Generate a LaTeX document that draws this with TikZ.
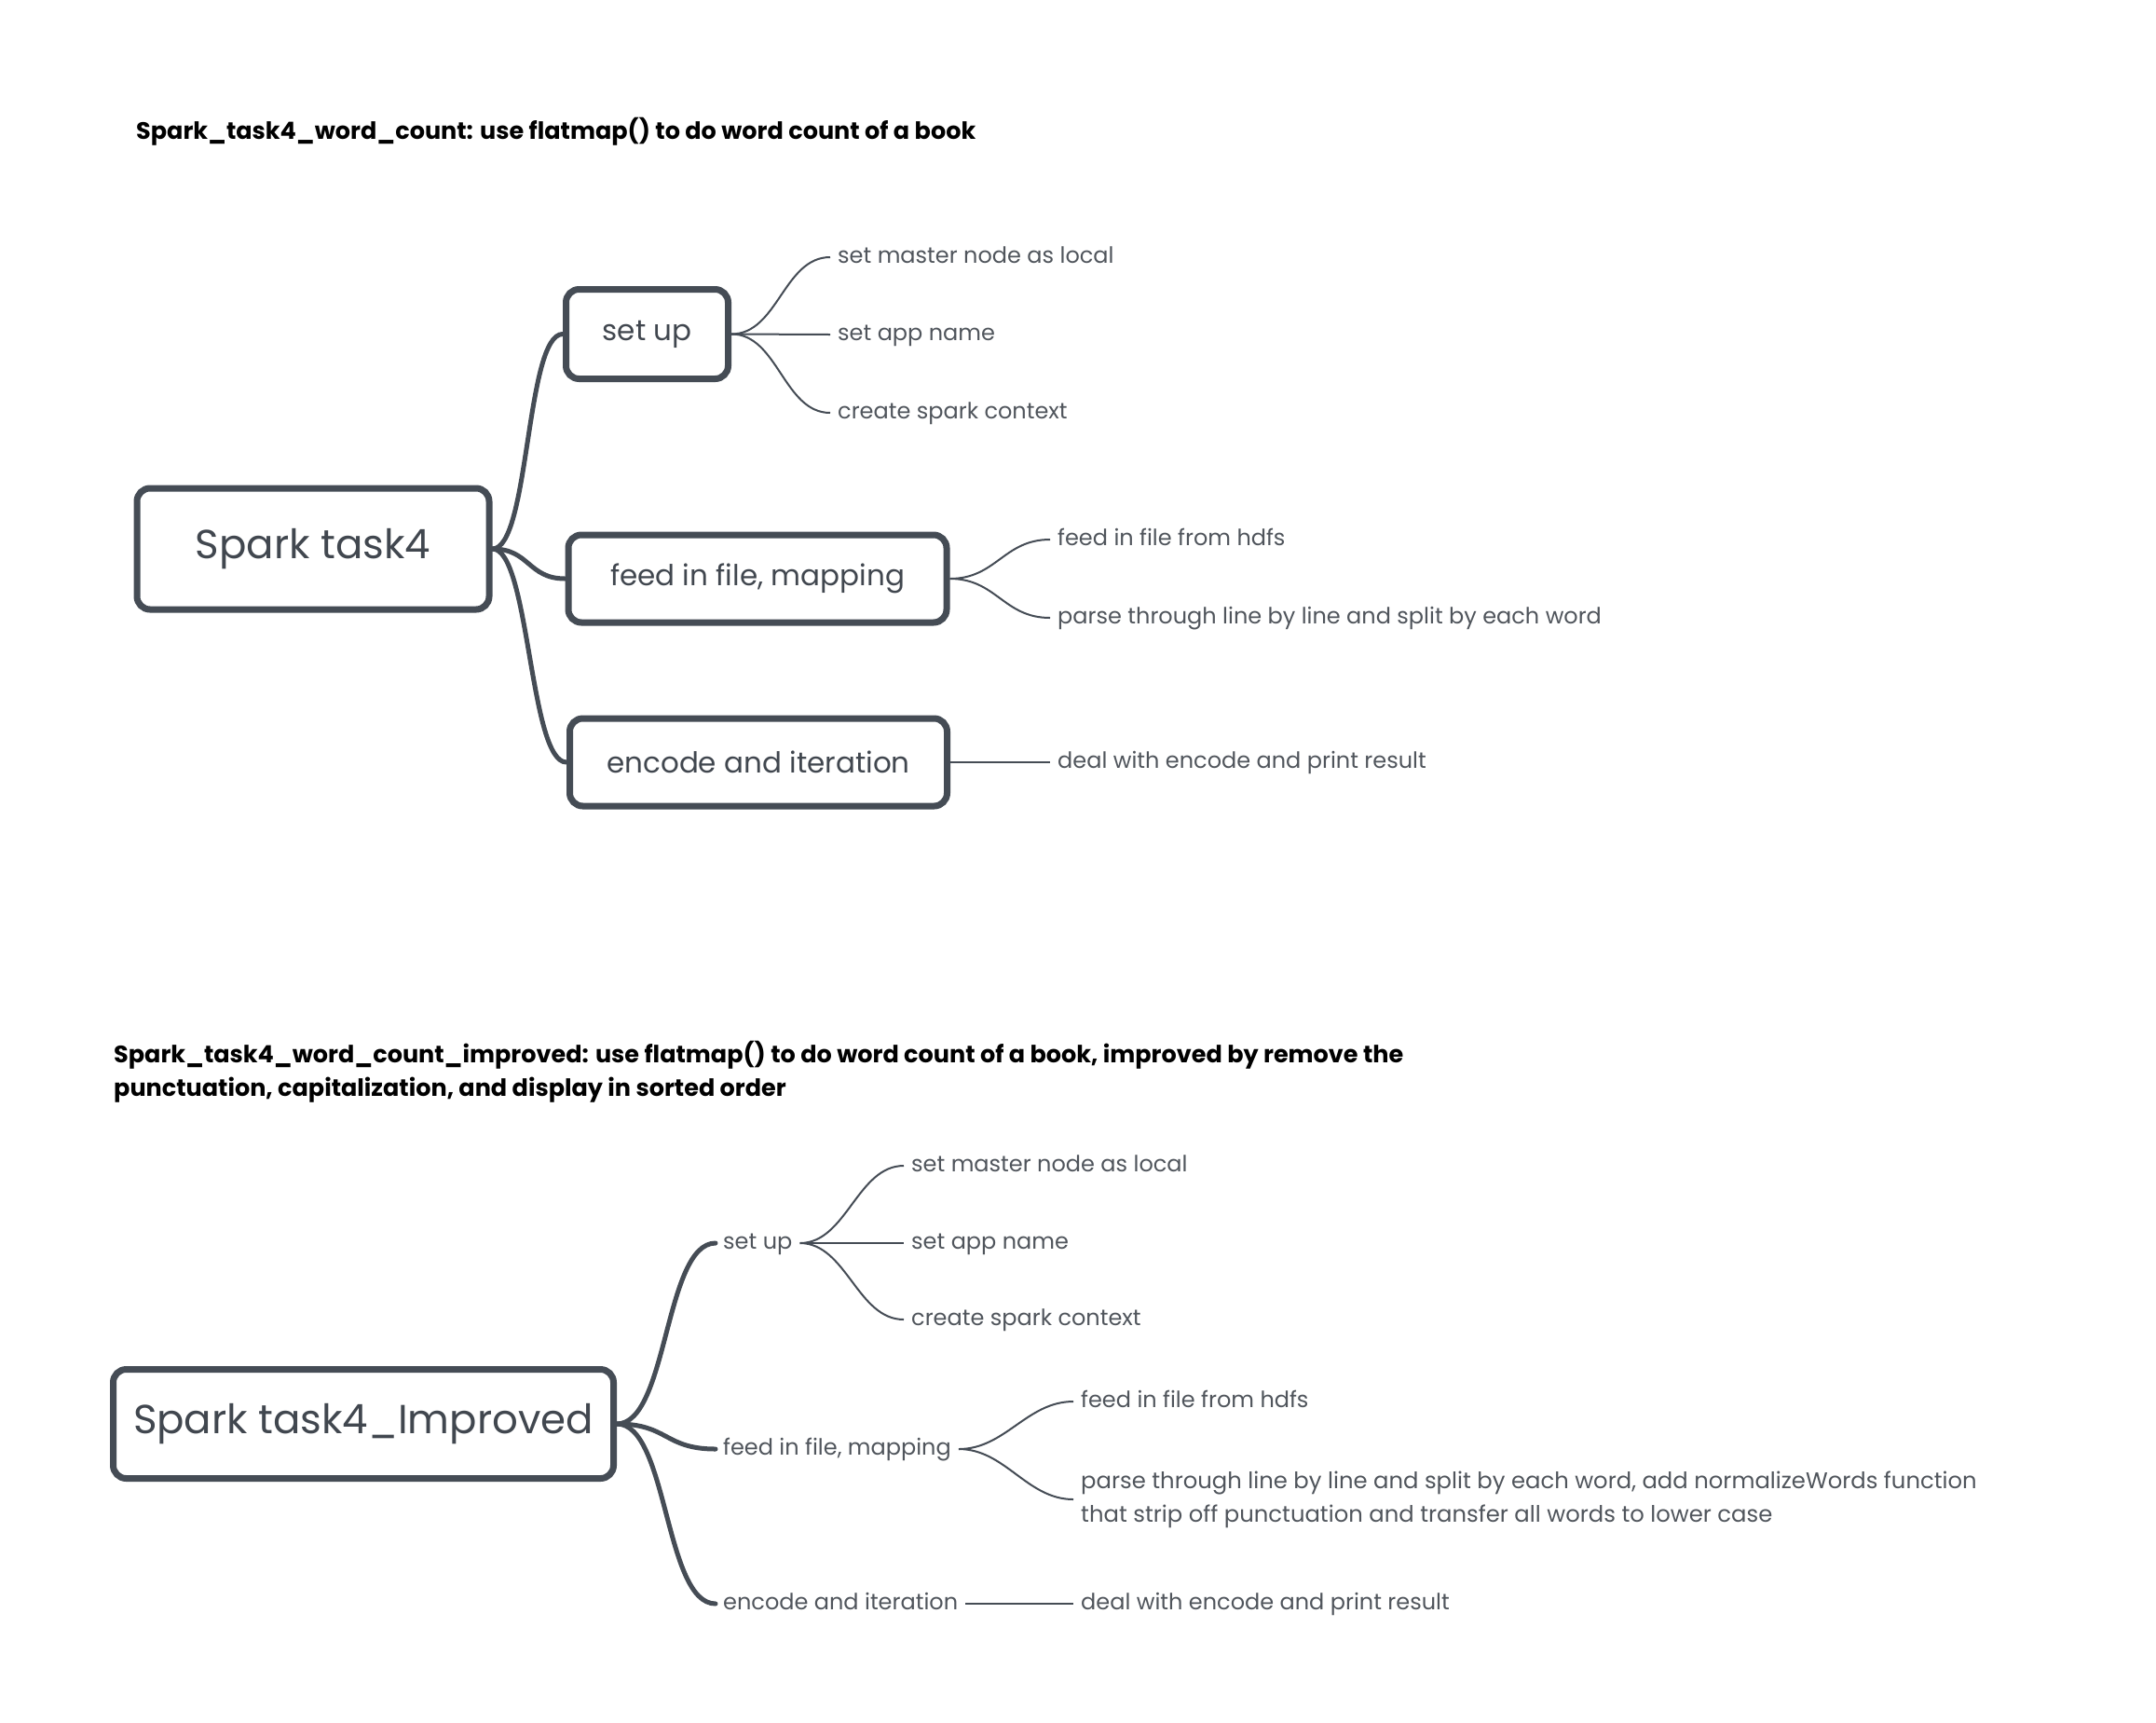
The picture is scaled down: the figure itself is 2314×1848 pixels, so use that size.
\documentclass[tikz,border=0pt]{standalone}
\usepackage{fontspec}
\setmainfont{Poppins}
\definecolor{boxc}{HTML}{454C55}
\definecolor{txtc}{HTML}{41474F}
\definecolor{leafc}{HTML}{50555C}
\definecolor{linec}{HTML}{454C55}
\begin{document}
\begin{tikzpicture}[x=1pt,y=-1pt,
  box/.style={draw=boxc, line width=7pt, rounded corners=14pt, fill=white, text=txtc, inner sep=0pt, font=\fontsize{31}{38}\selectfont},
  rootbox/.style={box, font=\fontsize{43.5}{52}\selectfont},
  leaf/.style={text=leafc, inner xsep=8pt, inner ysep=0pt, anchor=west, text height=17pt, text depth=5pt, font=\fontsize{24}{36}\selectfont},
  leaftwo/.style={text=leafc, inner xsep=8pt, inner ysep=0pt, anchor=west, align=left, font=\fontsize{24.3}{36}\selectfont},
  titlenode/.style={anchor=west, inner sep=0pt, align=left, text=black, font=\fontsize{25.5}{36}\selectfont\bfseries},
  branch/.style={draw=linec, line width=5pt, line cap=round},
  twig/.style={draw=linec, line width=2pt},
]
\useasboundingbox[fill=white] (0,0) rectangle (2314,1848);

% ---------- top diagram ----------
\node[titlenode] (title1) at (146,141) {Spark\_task4\_word\_count: use flatmap() to do word count of a book};

\node[rootbox, minimum width=378, minimum height=130] (root) at (336,589) {Spark task4};
\node[box, minimum width=174, minimum height=96] (setup) at (694.5,358.5) {set up};
\node[box, minimum width=406, minimum height=94] (feed) at (813,621) {feed in file, mapping};
\node[box, minimum width=405, minimum height=94] (enc) at (814,818) {encode and iteration};

\draw[branch] (root.east) to[out=0,in=180,distance=40] (setup.west);
\draw[branch] (root.east) to[out=0,in=180,distance=40] (feed.west);
\draw[branch] (root.east) to[out=0,in=180,distance=40] (enc.west);

\node[leaf] (s1) at (891,276) {set master node as local};
\node[leaf] (s2) at (891,359) {set app name};
\node[leaf] (s3) at (891,443) {create spark context};
\draw[twig] (setup.east) to[out=0,in=180,distance=50] (s1.west);
\draw[twig] (setup.east) -- (s2.west);
\draw[twig] (setup.east) to[out=0,in=180,distance=50] (s3.west);

\node[leaf] (f1) at (1127,579) {feed in file from hdfs};
\node[leaf] (f2) at (1127,663) {parse through line by line and split by each word};
\draw[twig] (feed.east) to[out=0,in=180,distance=50] (f1.west);
\draw[twig] (feed.east) to[out=0,in=180,distance=50] (f2.west);

\node[leaf] (e1) at (1127,818) {deal with encode and print result};
\draw[twig] (enc.east) -- (e1.west);

% ---------- bottom diagram ----------
\node[titlenode] (title2) at (122,1150) {Spark\_task4\_word\_count\_improved: use flatmap() to do word count of a book, improved by remove the\\punctuation, capitalization, and display in sorted order};

\node[rootbox, minimum width=537, minimum height=117] (broot) at (390,1528) {Spark task4\_Improved};

\node[leaf] (bsetup) at (768,1334) {set up};
\node[leaf] (bfeed) at (768,1555) {feed in file, mapping};
\node[leaf] (benc) at (768,1721) {encode and iteration};

\draw[branch] (broot.east) to[out=0,in=180,distance=55] (bsetup.west);
\draw[branch] (broot.east) to[out=0,in=180,distance=55] (bfeed.west);
\draw[branch] (broot.east) to[out=0,in=180,distance=55] (benc.west);

\node[leaf] (bs1) at (970,1251) {set master node as local};
\node[leaf] (bs2) at (970,1334) {set app name};
\node[leaf] (bs3) at (970,1416) {create spark context};
\draw[twig] (bsetup.east) to[out=0,in=180,distance=50] (bs1.west);
\draw[twig] (bsetup.east) -- (bs2.west);
\draw[twig] (bsetup.east) to[out=0,in=180,distance=50] (bs3.west);

\node[leaf] (bf1) at (1152,1504) {feed in file from hdfs};
\node[leaftwo] (bf2) at (1152,1609) {parse through line by line and split by each word, add normalizeWords function\\that strip off punctuation and transfer all words to lower case};
\draw[twig] (bfeed.east) to[out=0,in=180,distance=50] (bf1.west);
\draw[twig] (bfeed.east) to[out=0,in=180,distance=50] (bf2.west);

\node[leaf] (be1) at (1152,1721) {deal with encode and print result};
\draw[twig] (benc.east) -- (be1.west);
\end{tikzpicture}
\end{document}
